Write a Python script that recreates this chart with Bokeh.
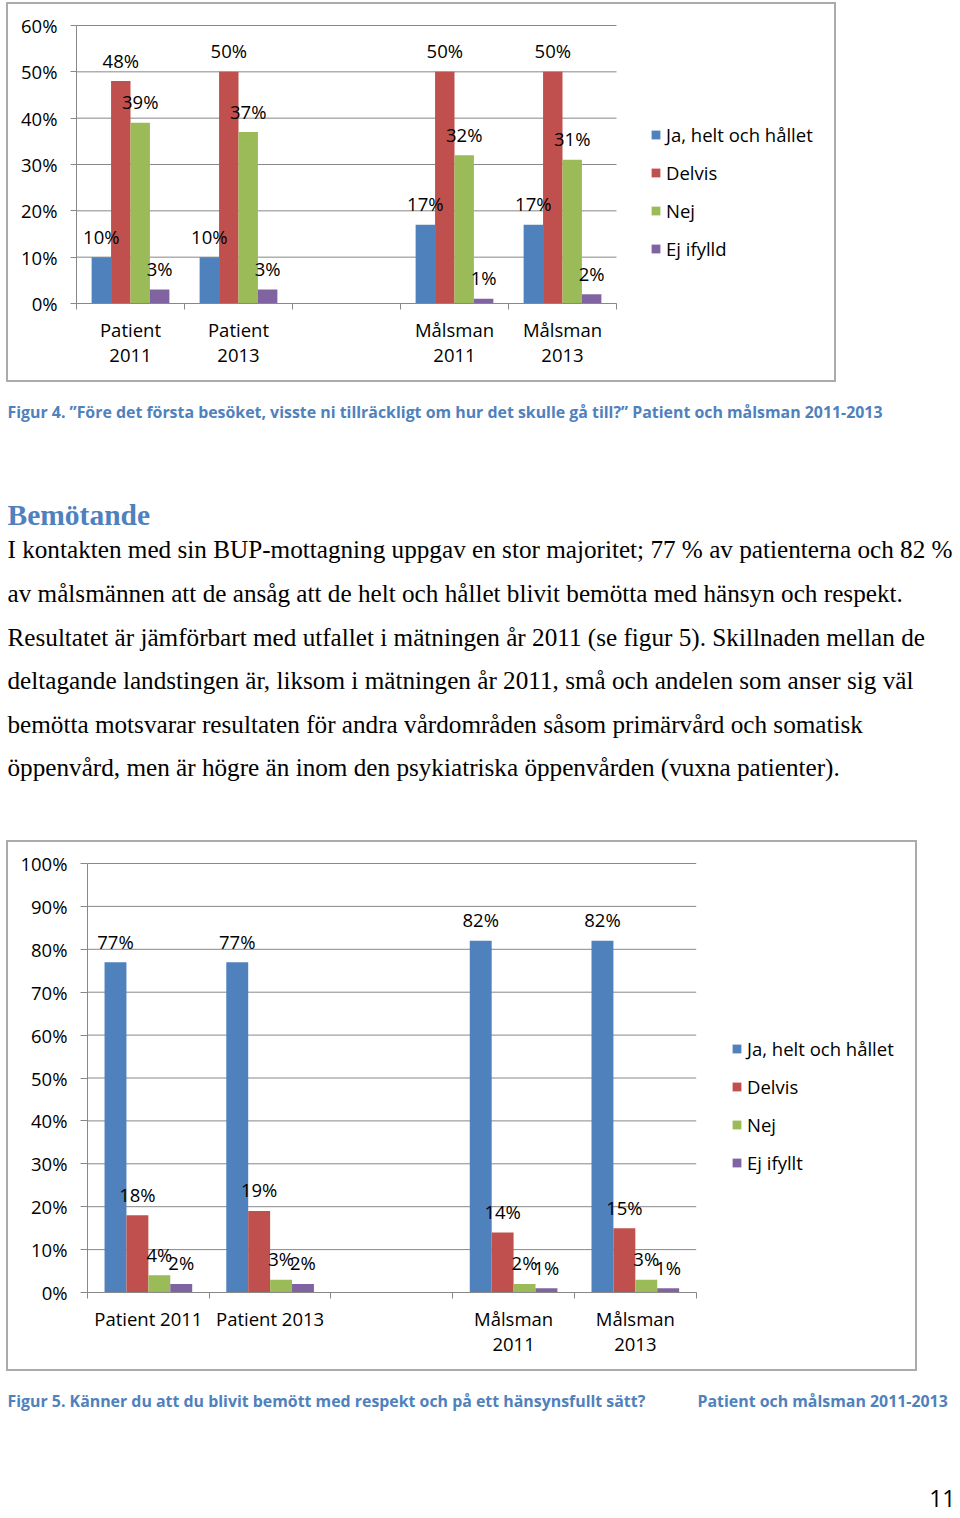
from bokeh.plotting import figure
from bokeh.models import (Range1d, FixedTicker, LinearAxis, PrintfTickFormatter,
                          Legend, LegendItem, ColumnDataSource)
from bokeh.layouts import column
from bokeh.embed import file_html
from bokeh.resources import INLINE
from bokeh.core.properties import value

# ---------------- data ----------------
colors = ["#4F81BD", "#C0504D", "#9BBB59", "#8064A2"]

f4_categories = ["Patient\n2011", "Patient\n2013", "", "Målsman\n2011", "Målsman\n2013"]
f4_series = ["Ja, helt och hållet", "Delvis", "Nej", "Ej ifylld"]
f4_ja = [10, 10, None, 17, 17]
f4_delvis = [48, 50, None, 50, 50]
f4_nej = [39, 37, None, 32, 31]
f4_ej = [3, 3, None, 1, 2]
f4_yticks = [0, 10, 20, 30, 40, 50, 60]

f5_categories = ["Patient 2011", "Patient 2013", "", "Målsman\n2011", "Målsman\n2013"]
f5_series = ["Ja, helt och hållet", "Delvis", "Nej", "Ej ifyllt"]
f5_ja = [77, 77, None, 82, 82]
f5_delvis = [18, 19, None, 14, 15]
f5_nej = [4, 3, None, 2, 3]
f5_ej = [2, 2, None, 1, 1]
f5_yticks = [0, 10, 20, 30, 40, 50, 60, 70, 80, 90, 100]

caption4 = "Figur 4. \u201dFöre det första besöket, visste ni tillräckligt om hur det skulle gå till?\u201d Patient och målsman 2011-2013"
heading = "Bemötande"
body_lines = [
    "I kontakten med sin BUP-mottagning uppgav en stor majoritet; 77 % av patienterna och 82 %",
    "av målsmännen att de ansåg att de helt och hållet blivit bemötta med hänsyn och respekt.",
    "Resultatet är jämförbart med utfallet i mätningen år 2011 (se figur 5). Skillnaden mellan de",
    "deltagande landstingen är, liksom i mätningen år 2011, små och andelen som anser sig väl",
    "bemötta motsvarar resultaten för andra vårdområden såsom primärvård och somatisk",
    "öppenvård, men är högre än inom den psykiatriska öppenvården (vuxna patienter).",
]
caption5a = "Figur 5. Känner du att du blivit bemött med respekt och på ett hänsynsfullt sätt?"
caption5b = "Patient och målsman 2011-2013"
page_no = "11"

# ---------------- style ----------------
FONT = "Open Sans"
FS = "18.5px"
GRAY = "#888888"
CAP_BLUE = "#4F81BD"
BAR_W = 0.18
OFFSETS = [-0.27, -0.09, 0.09, 0.27]


def bar_chart(width, height, borders, cat_px, ymax_px, cats, series_vals, names, ymax,
              yticks, tick_out, legend_xy, legend_spacing):
    left, right, top, bottom = borders
    n = len(cats)
    frame_w = width - left - right
    frame_h = height - top - bottom
    p = figure(width=width, height=height,
               x_range=Range1d(0, frame_w / cat_px),
               y_range=Range1d(0, ymax * frame_h / ymax_px),
               output_backend="svg", toolbar_location=None, x_axis_type=None, y_axis_type=None,
               min_border_left=left, min_border_right=right, min_border_top=top,
               min_border_bottom=bottom, frame_align=False)
    p.outline_line_color = None
    p.background_fill_alpha = 0
    p.border_fill_alpha = 0
    p.styles = {"outline": "2px solid #ABABAB", "outline-offset": "-2px"}

    yax = LinearAxis(ticker=FixedTicker(ticks=yticks), formatter=PrintfTickFormatter(format="%d%%"),
                     bounds=(0, ymax))
    yax.axis_line_color = GRAY
    yax.major_tick_line_color = GRAY
    yax.major_tick_out = tick_out
    yax.major_tick_in = 0
    yax.minor_tick_line_color = None
    yax.major_label_standoff = 13
    yax.major_label_text_font = FONT
    yax.major_label_text_font_size = FS
    yax.major_label_text_color = "black"
    p.add_layout(yax, "left")

    centers = [i + 0.5 for i in range(n)]
    xax = LinearAxis(ticker=FixedTicker(ticks=centers, minor_ticks=list(range(n + 1))),
                     major_label_overrides={c: lab for c, lab in zip(centers, cats)},
                     bounds=(0, n))
    xax.axis_line_color = GRAY
    xax.major_tick_line_color = None
    xax.minor_tick_line_color = GRAY
    xax.minor_tick_out = 6
    xax.minor_tick_in = 0
    xax.major_label_standoff = 7
    xax.major_label_text_font = FONT
    xax.major_label_text_font_size = FS
    xax.major_label_text_color = "black"
    xax.major_label_text_line_height = 1.0
    p.add_layout(xax, "below")

    # horizontal gridlines across the category area only
    p.segment(x0=[0] * len(yticks), y0=yticks, x1=[n] * len(yticks), y1=yticks,
              line_color=GRAY, line_width=1)

    items = []
    sources = []
    for k, (vals, name) in enumerate(zip(series_vals, names)):
        xs = [i + 0.5 + OFFSETS[k] for i, v in enumerate(vals) if v is not None]
        ys = [v for v in vals if v is not None]
        src = ColumnDataSource(dict(x=xs, top=ys, label=[f"{v}%" for v in ys]))
        sources.append(src)
        r = p.vbar(x="x", top="top", bottom=0, width=BAR_W, source=src,
                   fill_color=colors[k], line_color=None)
        items.append(LegendItem(label=name, renderers=[r]))
    for src in sources:
        p.text(x="x", y="top", text="label", source=src, y_offset=-21,
               text_align="center", text_baseline="middle", text_font=value(FONT),
               text_font_size=FS, text_color="black")

    leg = Legend(items=items, location=legend_xy, orientation="vertical",
                 border_line_color=None, background_fill_alpha=0, padding=0, margin=0,
                 spacing=legend_spacing, glyph_width=11, glyph_height=11, label_standoff=5,
                 label_text_font=FONT, label_text_font_size=FS, label_text_color="black",
                 label_height=25)
    p.add_layout(leg, "center")
    return p


def text_fig(w, h):
    t = figure(width=w, height=h, x_range=Range1d(0, w), y_range=Range1d(h, 0),
               output_backend="svg", toolbar_location=None, x_axis_type=None,
               y_axis_type=None, min_border=0, frame_align=False)
    t.outline_line_color = None
    t.background_fill_alpha = 0
    t.border_fill_alpha = 0
    return t


# ---------------- figure 4 ----------------
p1 = bar_chart(830, 380, (70, 6, 19, 79), 108, 278, f4_categories,
               [f4_ja, f4_delvis, f4_nej, f4_ej], f4_series, 60, f4_yticks,
               6, (574, 42), 13)
p1.margin = (2, 0, 0, 6)

# ---------------- text block ----------------
t1 = text_fig(960, 458)
t1.text(x=[7], y=[29], text=[caption4], text_font=value(FONT), text_font_style="bold",
        text_font_size="15.9px", text_color=CAP_BLUE, text_baseline="middle")
t1.text(x=[7], y=[132], text=[heading], text_font=value("Liberation Serif"), text_font_style="bold",
        text_font_size="29.5px", text_color=CAP_BLUE, text_baseline="middle")
body_y = [167, 211, 255, 298, 342, 385]
t1.text(x=[7] * len(body_lines), y=body_y, text=body_lines, text_font=value("Liberation Serif"),
        text_font_size="25.2px", text_color="black", text_baseline="middle")

# ---------------- figure 5 ----------------
p2 = bar_chart(911, 531, (81, 6, 17, 79), 121.74, 429, f5_categories,
               [f5_ja, f5_delvis, f5_nej, f5_ej], f5_series, 100, f5_yticks,
               7, (644, 117), 13)
p2.margin = (0, 0, 0, 6)

# ---------------- bottom text ----------------
t2 = text_fig(960, 147)
t2.text(x=[7, 697], y=[29, 29], text=[caption5a, caption5b], text_font=value(FONT),
        text_font_style="bold", text_font_size="15.9px", text_color=CAP_BLUE, text_baseline="middle")
t2.text(x=[955], y=[127], text=[page_no], text_font=value(FONT), text_font_size="23px",
        text_color="black", text_align="right", text_baseline="middle")

layout = column(p1, t1, p2, t2, spacing=0)
open("out.html", "w").write(file_html(layout, INLINE))
